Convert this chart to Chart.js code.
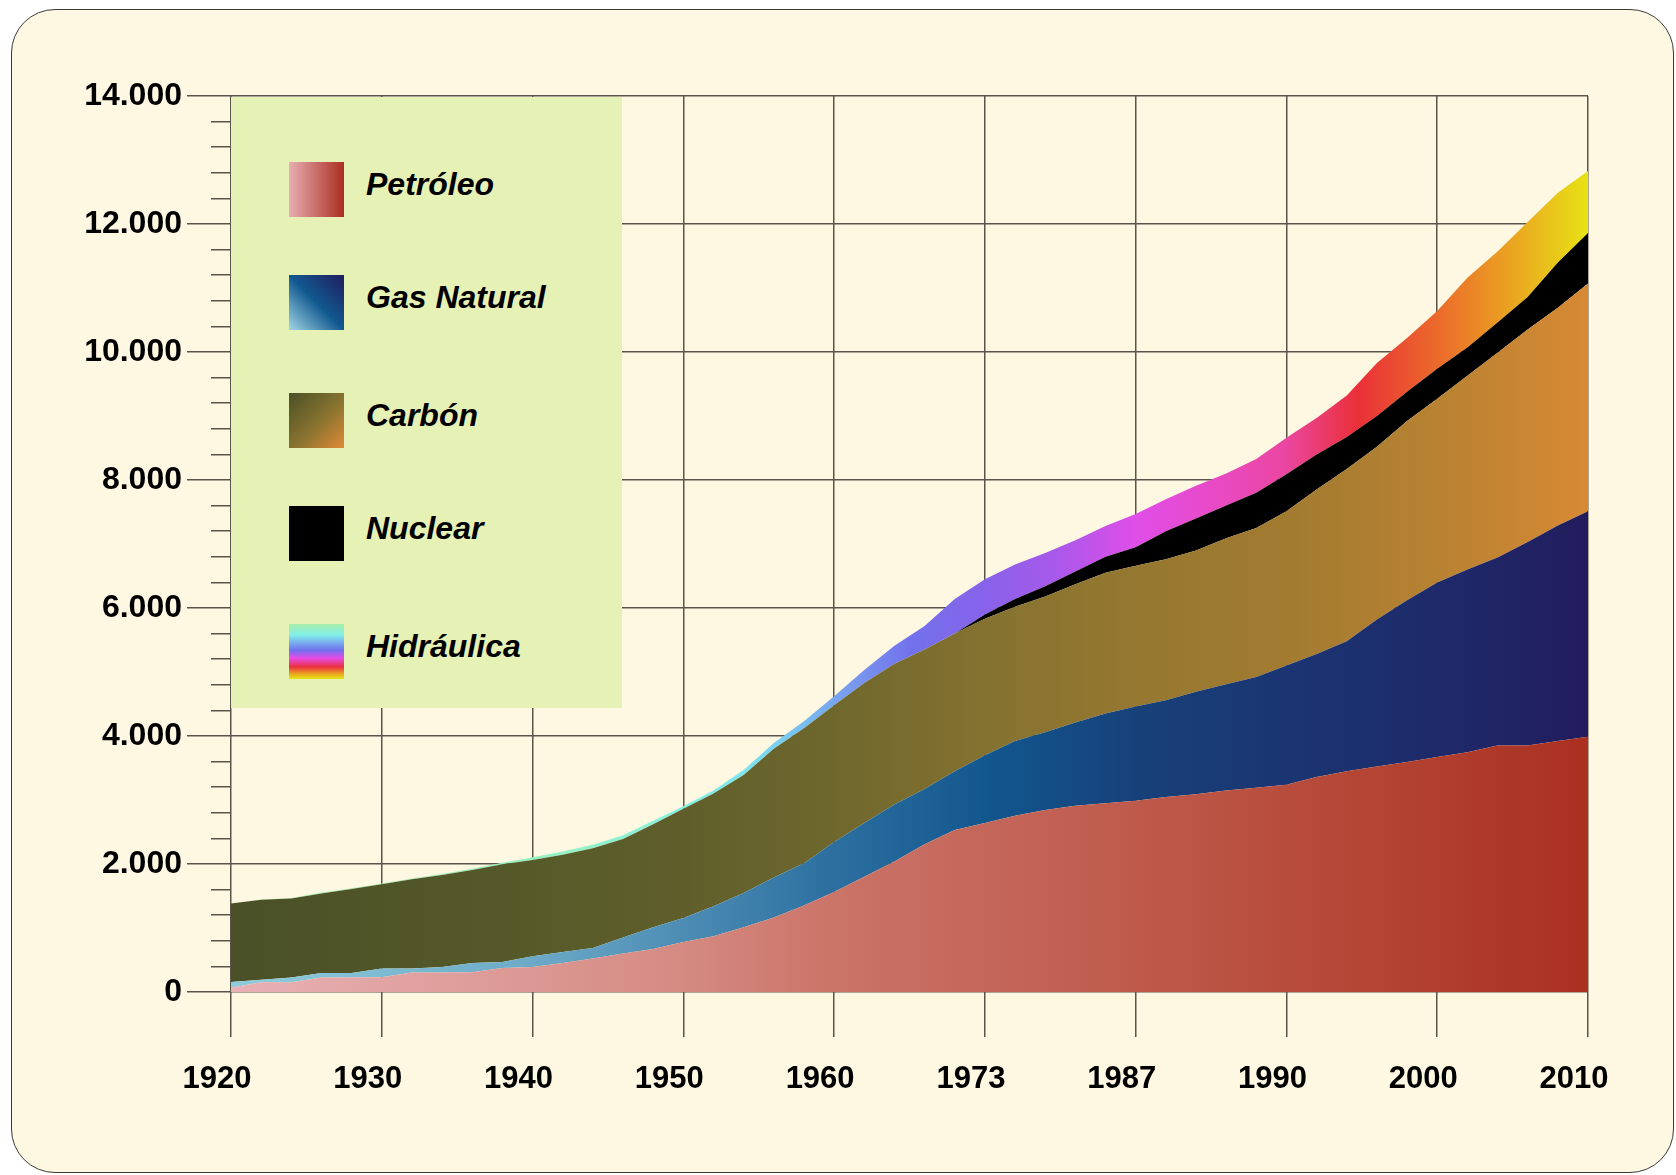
<!DOCTYPE html>
<html>
<head>
<meta charset="utf-8">
<script src="https://cdn.jsdelivr.net/npm/chart.js@4.4.1/dist/chart.umd.min.js"></script>
<style>
    html, body { margin: 0; padding: 0; background: #fff; }
    #frame {
        position: absolute; left: 11px; top: 9px; width: 1663px; height: 1164px;
        box-sizing: border-box; border: 1.5px solid #3a3a3a; border-radius: 44px;
        background: #fef7e2;
    }
    #chart { position: absolute; left: 0; top: 0; }
    #legend {
        position: absolute; left: 231px; top: 97px; width: 391px; height: 611px;
        background: #e6f1b6;
    }
    .item { position: absolute; left: 58px; height: 55px; }
    .swatch { position: absolute; left: 0; top: 0; width: 55px; height: 55px; }
    .name {
        position: absolute; left: 77px; top: 4px; line-height: 55px; white-space: nowrap;
        font: italic bold 32px 'Liberation Sans', Arial, sans-serif; color: #000;
    }
</style>
</head>
<body>
<div id="frame"></div>
<canvas id="chart" width="1676" height="1175"></canvas>
<div id="legend"></div>
<script>
// eje X: etiquetas tal como aparecen, con 5 muestras por tramo
const YEAR_LABELS = ['1920', '1930', '1940', '1950', '1960', '1973', '1987', '1990', '2000', '2010'];
const STEPS_PER_LABEL = 5;

const SERIES_NAMES = ['Petróleo', 'Gas Natural', 'Carbón', 'Nuclear', 'Hidráulica'];

// consumo por fuente (apilado)
const PETROLEO = [68, 151, 151, 225, 225, 230, 303, 303, 310, 376, 390, 454, 522, 600, 672,
    781, 870, 1010, 1165, 1350, 1562, 1800, 2040, 2310, 2530, 2640, 2755, 2845, 2910, 2950,
    2990, 3045, 3090, 3150, 3190, 3240, 3360, 3450, 3525, 3595, 3670, 3745, 3850, 3850, 3920, 3990];
const GAS_NATURAL = [89, 39, 74, 73, 73, 136, 63, 87, 144, 94, 170, 171, 167, 250, 338,
    375, 470, 535, 625, 660, 782, 840, 890, 860, 920, 1058, 1165, 1215, 1300, 1400,
    1470, 1515, 1600, 1660, 1730, 1860, 1920, 2030, 2295, 2525, 2730, 2855, 2940, 3180, 3370, 3520];
const CARBON = [1227, 1250, 1237, 1242, 1310, 1316, 1394, 1438, 1452, 1525, 1503, 1520, 1556, 1540, 1610,
    1708, 1760, 1845, 2010, 2110, 2135, 2190, 2200, 2180, 2150, 2135, 2100, 2120, 2160, 2200,
    2200, 2200, 2210, 2280, 2330, 2410, 2570, 2690, 2700, 2800, 2870, 3030, 3200, 3320, 3400, 3560];
const NUCLEAR = [0, 0, 0, 0, 0, 0, 0, 0, 0, 0, 0, 0, 0, 0, 0,
    0, 0, 0, 0, 0, 0, 0, 0, 0, 0, 67, 120, 160, 200, 250,
    290, 440, 500, 510, 550, 580, 550, 500, 480, 460, 470, 440, 470, 510, 710, 790];
const HIDRAULICA = [0, 5, 8, 15, 12, 13, 15, 17, 19, 25, 42, 50, 55, 60, 55,
    40, 50, 80, 90, 110, 141, 200, 280, 370, 540, 550, 540, 520, 490, 480,
    520, 500, 510, 500, 530, 570, 570, 650, 830, 840, 900, 1090, 1110, 1170, 1090, 970];

const SERIES = [PETROLEO, GAS_NATURAL, CARBON, NUCLEAR, HIDRAULICA];

const GRID = '#59554b';

// degradados horizontales de cada área (posición 0..1 a lo ancho del área)
const AREA_STOPS = [
    [[0, '#e8b1b5'], [0.33, '#d58b82'], [0.44, '#cb7468'], [0.56, '#c4665a'], [0.7, '#bc5646'], [1, '#aa3020']],
    [[0, '#8fcddd'], [0.22, '#6daac8'], [0.33, '#4e8eb5'], [0.44, '#2d70a0'], [0.56, '#12568e'], [0.67, '#174079'], [0.89, '#1e2a6a'], [1, '#221c5e']],
    [[0, '#4a5027'], [0.22, '#565a29'], [0.33, '#5f5e2b'], [0.44, '#6e672d'], [0.56, '#857230'], [0.67, '#967830'], [0.78, '#a27b30'], [0.89, '#b88232'], [1, '#d88934']],
    [[0, '#000000'], [1, '#000000']],
    [[0, '#a8eea6'], [0.25, '#95f0c4'], [0.33, '#85f0e0'], [0.38, '#7ce4f0'], [0.42, '#78bef0'], [0.444, '#79a6ef'],
     [0.5, '#7272ec'], [0.556, '#8862ea'], [0.61, '#aa58ea'], [0.667, '#e04ee8'], [0.72, '#e84ac8'], [0.778, '#ea46a0'],
     [0.83, '#ea3038'], [0.889, '#eb6a2b'], [0.94, '#eaa022'], [1, '#e8e215']],
];

const SWATCHES = [
    'linear-gradient(to right, #e8adb2, #aa2e20)',
    'linear-gradient(to top right, #a2d6e6 0%, #11588f 50%, #221c5e 100%)',
    'linear-gradient(to bottom right, #4a5027 0%, #8a7430 55%, #e08a35 100%)',
    '#000',
    'linear-gradient(to bottom, #a8eea8 0%, #80f0e8 20%, #78a8f0 35%, #7070ec 48%, #e84ce8 62%, #ea3040 78%, #eaa020 90%, #e8e615 100%)',
];
const SWATCH_TOPS = [65, 178, 296, 409, 527];

function areaGradient(chart, stops) {
    const area = chart.chartArea;
    if (!area) return stops[0][1];
    const g = chart.ctx.createLinearGradient(area.left, 0, area.right, 0);
    stops.forEach(([p, c]) => g.addColorStop(p, c));
    return g;
}

function formatThousands(v) {
    return String(v).replace(/\B(?=(\d{3})+(?!\d))/g, '.');
}

const labels = [];
YEAR_LABELS.forEach((y, k) => {
    labels.push(y);
    if (k < YEAR_LABELS.length - 1) {
        for (let s = 1; s < STEPS_PER_LABEL; s++) labels.push('');
    }
});

const isMajorX = ctx => ctx.index % STEPS_PER_LABEL === 0;

Chart.defaults.font.family = "'Liberation Sans', Arial, sans-serif";

new Chart(document.getElementById('chart'), {
    type: 'line',
    data: {
        labels,
        datasets: SERIES_NAMES.map((name, k) => ({
            label: name,
            data: SERIES[k],
            xAxisID: 'x',
            yAxisID: 'y',
            fill: k === 0 ? 'origin' : '-1',
            backgroundColor: ctx => areaGradient(ctx.chart, AREA_STOPS[k]),
            borderWidth: 0,
            pointRadius: 0,
            tension: 0,
        })),
    },
    options: {
        responsive: false,
        animation: false,
        layout: { padding: { left: 11, right: 88, top: 96, bottom: 33 } },
        scales: {
            x: {
                type: 'category',
                offset: false,
                ticks: {
                    autoSkip: false, maxRotation: 0, minRotation: 0,
                    padding: 24, labelOffset: -14, color: '#000',
                    font: { size: 31, weight: 'bold' },
                    callback: (v, i) => labels[i],
                },
                grid: {
                    offset: false,
                    color: ctx => isMajorX(ctx) ? GRID : 'rgba(0,0,0,0)',
                    lineWidth: 1.5,
                    tickLength: 45,
                },
                border: { display: false },
                afterFit: s => { s.height = 150; },
            },
            y: {
                type: 'linear', position: 'left', stacked: true, weight: 1,
                min: 0, max: 14000,
                ticks: {
                    stepSize: 2000, padding: 5, color: '#000',
                    font: { size: 32, weight: 'bold' },
                    callback: v => formatThousands(v),
                },
                grid: { color: GRID, lineWidth: 1.5, tickLength: 24 },
                border: { display: false },
                afterFit: s => { s.width = 200; },
            },
            yMinor: {
                type: 'linear', position: 'left', weight: 0,
                min: 0, max: 14000,
                ticks: { display: false, stepSize: 400 },
                grid: { drawOnChartArea: false, color: GRID, lineWidth: 1.5, tickLength: 20 },
                border: { display: false },
                afterFit: s => { s.width = 20; },
            },
        },
        plugins: {
            legend: { display: false },
            tooltip: { enabled: false },
        },
    },
});

// leyenda dentro del área de trazado
const legend = document.getElementById('legend');
SERIES_NAMES.forEach((name, k) => {
    const item = document.createElement('div');
    item.className = 'item';
    item.style.top = SWATCH_TOPS[k] + 'px';
    const sw = document.createElement('div');
    sw.className = 'swatch';
    sw.style.background = SWATCHES[k];
    const txt = document.createElement('div');
    txt.className = 'name';
    txt.textContent = name;
    item.appendChild(sw);
    item.appendChild(txt);
    legend.appendChild(item);
});
</script>
</body>
</html>
